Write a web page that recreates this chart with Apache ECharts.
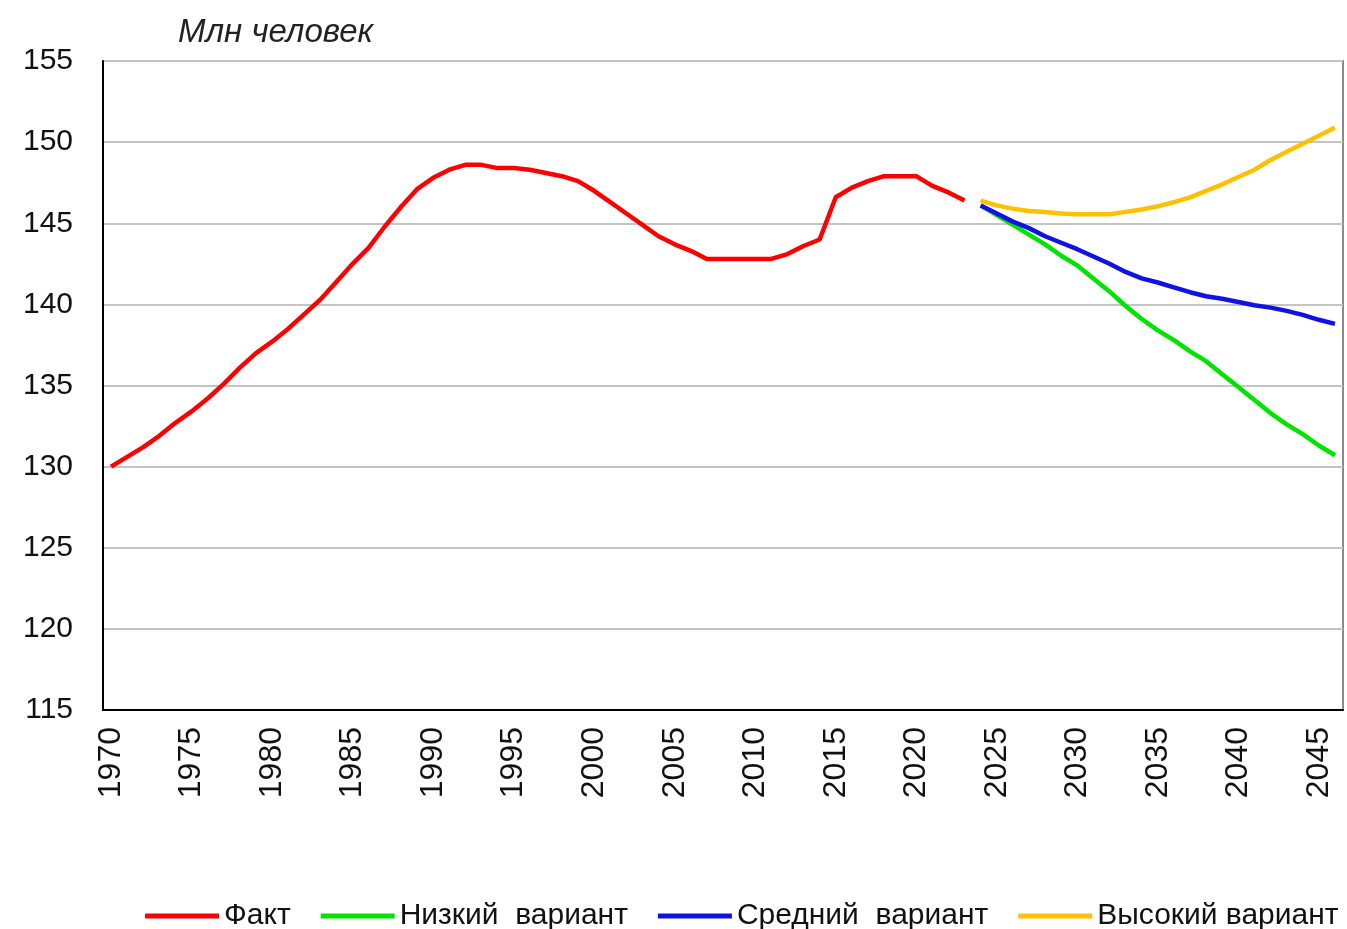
<!DOCTYPE html>
<html>
<head>
<meta charset="utf-8">
<script src="https://cdn.jsdelivr.net/npm/echarts@6/dist/echarts.min.js"></script>
<style>
	html, body { margin: 0; padding: 0; background: #fff; }
	#chart { width: 1347px; height: 929px; }
</style>
</head>
<body>
<div id="chart"></div>
<script>
// годы по оси X
let years = [];
for (let y = 1970; y <= 2046; y++) years.push(String(y));

// факт, 1970-2023
let fact = [
	130.0, 130.6, 131.2, 131.9, 132.7, 133.4, 134.2, 135.1, 136.1, 137.0,
	137.7, 138.5, 139.4, 140.3, 141.4, 142.5, 143.5, 144.8, 146.0, 147.1,
	147.8, 148.3, 148.6, 148.6, 148.4, 148.4, 148.3, 148.1, 147.9, 147.6,
	147.0, 146.3, 145.6, 144.9, 144.2, 143.7, 143.3, 142.8, 142.8, 142.8,
	142.8, 142.8, 143.1, 143.6, 144.0, 146.6, 147.2, 147.6, 147.9, 147.9,
	147.9, 147.3, 146.9, 146.4
];
// прогноз, 2024-2046
let low = [
	146.1, 145.5, 144.9, 144.3, 143.7, 143.0, 142.4, 141.6, 140.8, 139.9,
	139.1, 138.4, 137.8, 137.1, 136.5, 135.7, 134.9, 134.1, 133.3, 132.6,
	132.0, 131.3, 130.7
];
let mid = [
	146.1, 145.6, 145.1, 144.7, 144.2, 143.8, 143.4, 142.95, 142.5, 142.0,
	141.6, 141.35, 141.05, 140.75, 140.5, 140.35, 140.15, 139.95, 139.8, 139.6,
	139.35, 139.05, 138.8
];
let high = [
	146.4, 146.1, 145.9, 145.75, 145.7, 145.6, 145.55, 145.55, 145.55, 145.7,
	145.85, 146.05, 146.3, 146.6, 147.0, 147.4, 147.85, 148.3, 148.9, 149.4,
	149.9, 150.4, 150.9
];

let pad = (n) => new Array(n).fill(null);
let factData = fact.concat(pad(years.length - fact.length));
let projStart = years.length - low.length;

let font = "'Liberation Sans', Arial, sans-serif";

function lineSeries(name, data, color) {
	return {
		name: name,
		type: 'line',
		data: data,
		showSymbol: false,
		symbol: 'none',
		connectNulls: false,
		lineStyle: { color: color, width: 4.5 },
		itemStyle: { color: color }
	};
}

let myChart = echarts.init(document.getElementById('chart'), '', { renderer: 'canvas' });
let option = {
	animation: false,
	backgroundColor: '#fff',
	title: {
		text: 'Млн человек',
		left: 173,
		top: 11,
		textStyle: { fontFamily: font, fontStyle: 'italic', fontWeight: 'normal', fontSize: 33, color: '#222' }
	},
	grid: {
		left: 103, right: 4, top: 61, bottom: 219,
		show: true, borderColor: '#8a8a8a', borderWidth: 2
	},
	legend: {
		left: 140,
		top: 896,
		itemGap: 30,
		itemWidth: 74,
		itemHeight: 5,
		icon: 'rect',
		textStyle: { fontFamily: font, fontSize: 30, color: '#111', padding: [0, 0, 0, 0] },
		data: ['Факт', 'Низкий  вариант', 'Средний  вариант', 'Высокий вариант']
	},
	xAxis: {
		type: 'category',
		data: years,
		boundaryGap: true,
		axisLine: { lineStyle: { color: '#000', width: 2 } },
		axisTick: { show: false },
		axisLabel: { interval: 4, rotate: 90, margin: 17, fontFamily: font, fontSize: 32, color: '#111' },
		splitLine: { show: false }
	},
	yAxis: {
		type: 'value',
		min: 115, max: 155, interval: 5,
		axisLine: { show: true, lineStyle: { color: '#000', width: 2 } },
		axisTick: { show: false },
		axisLabel: { margin: 30, fontFamily: font, fontSize: 30, color: '#111' },
		splitLine: { lineStyle: { color: '#c4c4c4', width: 2 } }
	},
	series: [
		lineSeries('Факт', factData, '#ff0000'),
		lineSeries('Низкий  вариант', pad(projStart).concat(low), '#00e400'),
		lineSeries('Средний  вариант', pad(projStart).concat(mid), '#1010e8'),
		lineSeries('Высокий вариант', pad(projStart).concat(high), '#ffc000')
	]
};
myChart.setOption(option);
window.onresize = myChart.resize;
</script>
</body>
</html>
